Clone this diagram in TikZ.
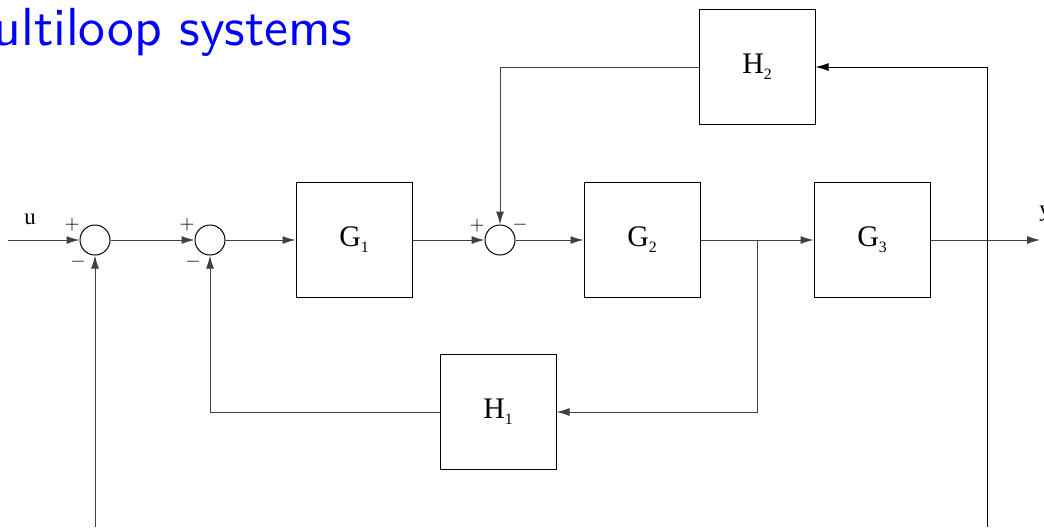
\documentclass[tikz,border=0pt]{standalone}
\usepackage{fontspec}
\newfontfamily\timesfont{Liberation Serif}
\newfontfamily\titlefont{lmsans10-regular.otf}
\usetikzlibrary{arrows.meta}
\newcommand{\blocklabel}[2]{#1\raisebox{-1.2mm}{\fontsize{9}{10}\selectfont #2}}
\begin{document}
\begin{tikzpicture}[x=0.2mm, y=-0.2mm, >={Latex[length=2.6mm,width=1.6mm]},
		blockbox/.style={draw, line width=0.2mm, minimum width=23.2mm, minimum height=23mm,
			inner sep=0pt, font=\timesfont\fontsize{17}{20}\selectfont},
		sumnode/.style={draw, circle, line width=0.2mm, minimum size=6mm, inner sep=0pt},
		sig/.style={->, line width=0.2mm, draw=black!75},
		sign/.style={font=\fontsize{11}{13}\selectfont, inner sep=0pt}]
	\useasboundingbox (0,0) rectangle (1044,527);
	\clip (0,0) rectangle (1044,527);
	% title, cut at the left edge
	\node[anchor=base east, text=blue, inner sep=0pt,
		font=\titlefont\fontsize{30.5}{35}\selectfont] (title) at (352,45) {Multiloop systems};
	% summing junctions and blocks
	\node[sumnode] (s1) at (95,240) {};
	\node[sumnode] (s2) at (210,240) {};
	\node[sumnode] (s3) at (500,240) {};
	\node[blockbox] (g1) at (354,240) {\blocklabel{G}{1}};
	\node[blockbox] (g2) at (642,240) {\blocklabel{G}{2}};
	\node[blockbox] (g3) at (872,240) {\blocklabel{G}{3}};
	\node[blockbox] (h1) at (498,412) {\blocklabel{H}{1}};
	\node[blockbox] (h2) at (757,67) {\blocklabel{H}{2}};
	% signs
	\foreach \i in {1,2}
		{
			\node[sign] (s\i p) at ([shift={(-23,-15)}]s\i) {$+$};
			\node[sign] (s\i m) at ([shift={(-17,22)}]s\i) {$-$};
		}
	\node[sign] (s3p) at ([shift={(-23,-14)}]s3) {$+$};
	\node[sign] (s3m) at ([shift={(20,-15)}]s3) {$-$};
	% input, output and free ends
	\coordinate (in) at (8,240);
	\coordinate (out) at (1040,240);
	\coordinate (tap) at (757,240);
	\coordinate (fbl) at (95,527);
	\coordinate (fbr) at (987,527);
	\node[font=\timesfont\fontsize{13}{15}\selectfont, inner sep=0pt] (ulabel) at (30,219) {u};
	\node[font=\timesfont\fontsize{13}{15}\selectfont, inner sep=0pt] (ylabel) at (1045,214) {y};
	% forward path
	\draw[sig] (in) -- (s1);
	\draw[sig] (s1) -- (s2);
	\draw[sig] (s2) -- (g1);
	\draw[sig] (g1) -- (s3);
	\draw[sig] (s3) -- (g2);
	\draw[sig] (g2) -- (g3);
	\draw[sig] (g3) -- (out);
	% feedback loops
	\draw[sig] (tap) |- (h1);
	\draw[sig] (h1) -| (s2);
	\draw[sig] (h2) -| (s3);
	\draw[sig, draw=black] (fbr) |- (h2);
	\draw[sig] (fbl) -- (s1);
\end{tikzpicture}
\end{document}
